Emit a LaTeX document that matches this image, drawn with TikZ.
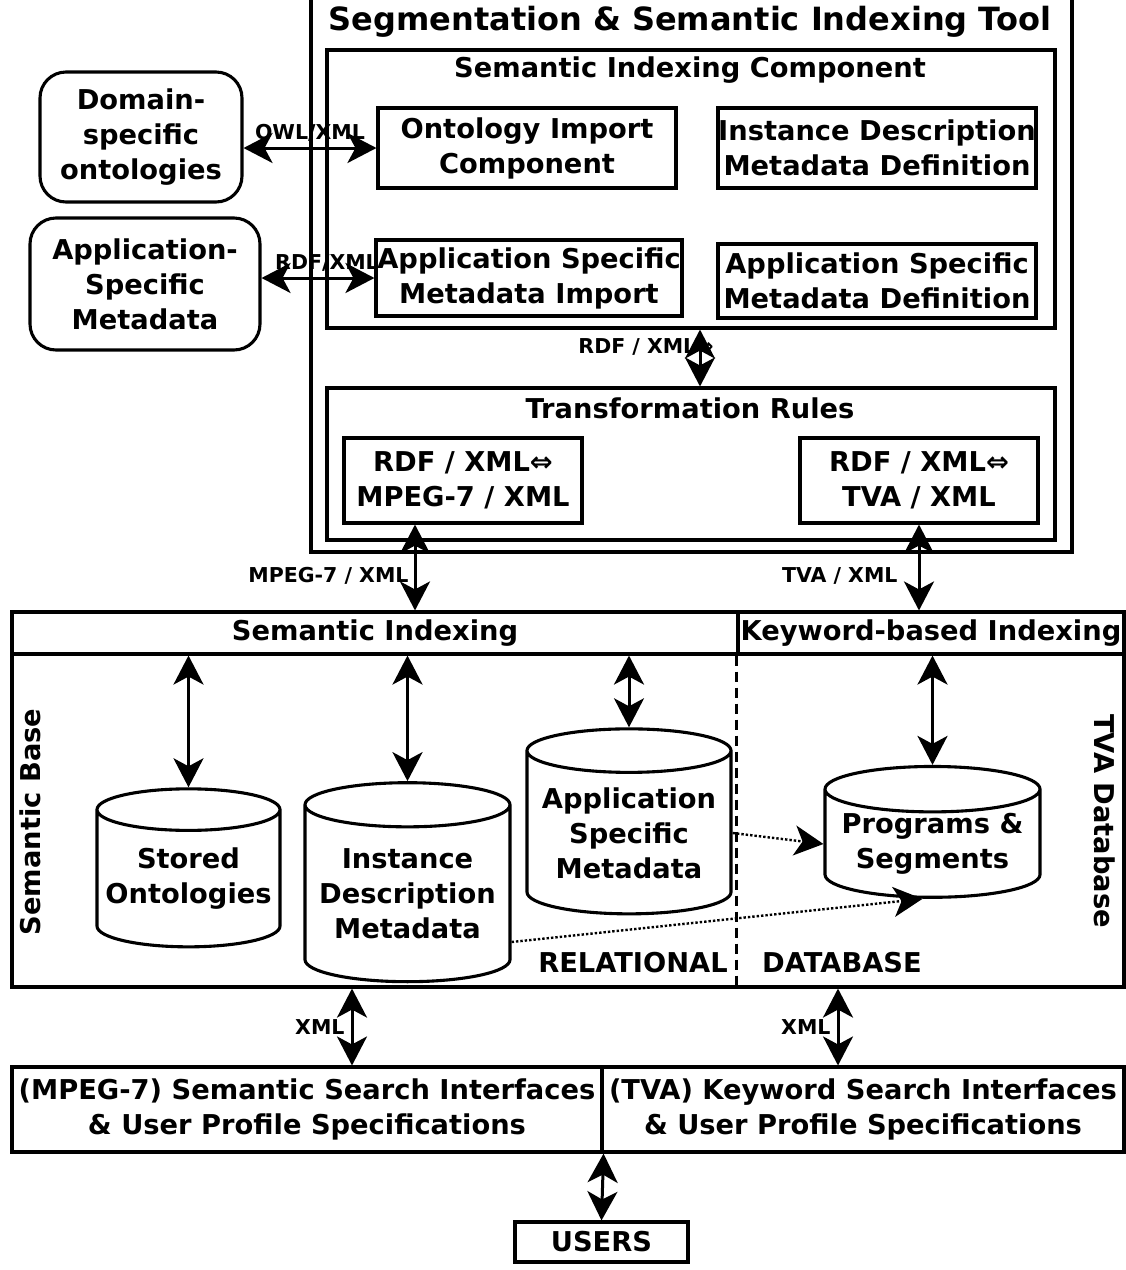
\documentclass[tikz,border=0pt]{standalone}
\usepackage{fontspec}
\setmainfont{DejaVu Sans}
\usetikzlibrary{arrows.meta, positioning, shapes.geometric, calc}

\begin{document}
\begin{tikzpicture}[x=1pt, y=-1pt,
    every node/.style={font=\bfseries\fontsize{27.3}{35}\selectfont, align=center, inner sep=0pt},
    box/.style={draw, line width=3.1pt},
    softbox/.style={box, rounded corners=26pt},
    store/.style={draw, line width=3.1pt, cylinder, shape border rotate=90, aspect=0.25},
    tag/.style={font=\bfseries\fontsize{20.5}{24}\selectfont},
    link/.style={{Stealth[length=29pt, width=30pt, inset=8pt]}-{Stealth[length=29pt, width=30pt, inset=8pt]}, line width=3pt},
    hint/.style={-{Stealth[length=29pt, width=30pt, inset=8pt]}, dotted, line width=2.4pt},
]
  \useasboundingbox (0,0) rectangle (1126,1270);

  % tool frame
  \node[box, minimum width=761, minimum height=580] (tool) at (691.5,262) {};
  \node[font=\bfseries\fontsize{32}{36}\selectfont] (title) at (690,22) {Segmentation \& Semantic Indexing Tool};

  \node[box, minimum width=728, minimum height=278] (sic) at (691,189) {};
  \node (sictitle) at (690,70) {Semantic Indexing Component};
  \node[box, minimum width=298, minimum height=80] (ontimp) at (527,148) {Ontology Import\\Component};
  \node[box, minimum width=318, minimum height=80] (instdef) at (877,148) {Instance Description\\Metadata Definition};
  \node[box, minimum width=306, minimum height=76] (appimp) at (529,278) {Application Specific\\Metadata Import};
  \node[box, minimum width=318, minimum height=74] (appdef) at (877,281) {Application Specific\\Metadata Definition};

  \node[softbox, minimum width=202, minimum height=130] (domont) at (141,137) {Domain-\\specific\\ontologies};
  \node[softbox, minimum width=230, minimum height=132] (appmeta) at (145,284) {Application-\\Specific\\Metadata};

  \node[box, minimum width=728, minimum height=152] (trans) at (691,464) {};
  \node (transtitle) at (690,408) {Transformation Rules};
  \node[box, minimum width=238, minimum height=85] (mpegrule) at (463,480.5) {RDF / XML⇔\\MPEG-7 / XML};
  \node[box, minimum width=238, minimum height=85] (tvarule) at (919,480.5) {RDF / XML⇔\\TVA / XML};

  % relational database
  \node[box, minimum width=726, minimum height=42] (semidx) at (375,633) {Semantic Indexing};
  \node[box, minimum width=386, minimum height=42] (kwidx) at (931,633) {Keyword-based Indexing};
  \node[box, minimum width=1112, minimum height=333] (dbbody) at (568,820.5) {};
  \draw[line width=2.2pt, dash pattern=on 10pt off 6pt] (kwidx.south west) -- (kwidx.south west |- dbbody.south);

  \node[store, minimum width=183, minimum height=158] (stored) at (188.5,879) {Stored\\Ontologies};
  \node[store, minimum width=205, minimum height=199] (instmeta) at (407.5,894) {Instance\\Description\\Metadata};
  \node[store, minimum width=204, minimum height=185] (appstore) at (629,833) {Application\\Specific\\Metadata};
  \node[store, minimum width=215, minimum height=125] (progseg) at (932.5,844) {Programs \&\\Segments};

  \node[rotate=90] (sembase) at (30,822) {Semantic Base};
  \node[rotate=-90] (tvadb) at (1105,821) {TVA Database};
  \node (relword) at (633,963) {RELATIONAL};
  \node (dbword) at (842,963) {DATABASE};

  % search interfaces and users
  \node[box, minimum width=590, minimum height=85] (semsearch) at (307,1109.5) {(MPEG-7) Semantic Search Interfaces\\\& User Profile Specifications};
  \node[box, minimum width=522, minimum height=85] (kwsearch) at (863,1109.5) {(TVA) Keyword Search Interfaces\\\& User Profile Specifications};
  \node[box, minimum width=173, minimum height=40] (users) at (601.5,1242) {USERS};

  % connectors
  \draw[link] (domont.east |- ontimp.west) -- node[tag, above, yshift=5pt] {OWL/XML} (ontimp.west);
  \draw[link] (appmeta.east |- appimp.west) -- node[tag, above, yshift=5pt, xshift=9pt] {RDF/XML} (appimp.west);
  \draw[link] ([xshift=9]sic.south) -- node[tag, pos=0.3, anchor=east, xshift=15pt] {RDF / XML⇔} ([xshift=9]trans.north);

  \coordinate (mpegA) at ([xshift=-48]mpegrule.south);
  \draw[link] (mpegA) -- node[tag, pos=0.6, anchor=east, xshift=-5pt] {MPEG-7 / XML} (mpegA |- semidx.north);
  \draw[link] (tvarule.south) -- node[tag, pos=0.6, anchor=east, xshift=-20pt] {TVA / XML} (tvarule.south |- kwidx.north);

  \draw[link] (stored.north |- semidx.south) -- (stored.north);
  \draw[link] (instmeta.north |- semidx.south) -- (instmeta.north);
  \draw[link] (appstore.north |- semidx.south) -- (appstore.north);
  \draw[link] (progseg.north |- kwidx.south) -- (progseg.north);

  \draw[hint] (appstore.east) -- (progseg.west);
  \draw[hint] ([yshift=-48]instmeta.east) -- ([xshift=-10]progseg.south);

  \coordinate (xmlA) at ([xshift=45]semsearch.north);
  \coordinate (xmlB) at ([xshift=-25]kwsearch.north);
  \draw[link] (xmlA |- dbbody.south) -- node[tag, anchor=east, xshift=-6pt] {XML} (xmlA);
  \draw[link] (xmlB |- dbbody.south) -- node[tag, anchor=east, xshift=-6pt] {XML} (xmlB);
  \draw[link] (semsearch.south east) -- (users.north);
\end{tikzpicture}
\end{document}
